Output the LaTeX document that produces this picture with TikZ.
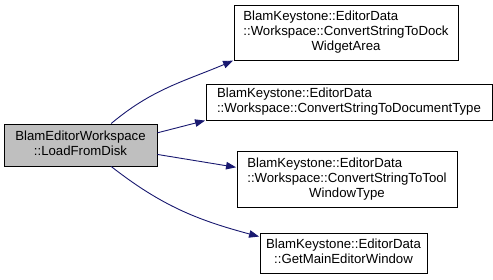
\documentclass[tikz,border=0pt]{standalone}
\usepackage{fontspec}
\setmainfont{Liberation Sans}
\usetikzlibrary{arrows.meta}
\definecolor{edgeblue}{HTML}{191970}
\definecolor{srcgray}{HTML}{BFBFBF}
\newcommand{\lastline}[1]{\multicolumn{1}{@{}c@{}}{#1}}
\tikzset{
  fnbox/.style={draw=black, line width=0.9pt, fill=white, inner sep=0pt,
    font=\fontsize{13.2}{15}\selectfont},
  srcbox/.style={fnbox, fill=srcgray},
  call/.style={draw=edgeblue, line width=0.9pt,
    -{Triangle[length=10pt,width=7.5pt]}, shorten >=0.5pt}
}
\begin{document}
\begin{tikzpicture}[x=1pt, y=1pt]
\useasboundingbox (0,0) rectangle (493,279);

\node[srcbox, minimum width=153, minimum height=42] (loadfromdisk) at (80.5,134)
  {\begin{tabular}{@{}l@{}}BlamEditorWorkspace\\\lastline{::LoadFromDisk}\end{tabular}};

\node[fnbox, minimum width=224, minimum height=55] (dockarea) at (346,246.5)
  {\begin{tabular}{@{}l@{}}BlamKeystone::EditorData\\::Workspace::ConvertStringToDock\\\lastline{WidgetArea}\end{tabular}};
\node[fnbox, minimum width=286, minimum height=36] (doctype) at (349,177)
  {\begin{tabular}{@{}l@{}}BlamKeystone::EditorData\\\lastline{::Workspace::ConvertStringToDocumentType}\end{tabular}};
\node[fnbox, minimum width=220, minimum height=56] (tooltype) at (347,100)
  {\begin{tabular}{@{}l@{}}BlamKeystone::EditorData\\::Workspace::ConvertStringToTool\\\lastline{WindowType}\end{tabular}};
\node[fnbox, minimum width=167, minimum height=40] (mainwindow) at (343.5,26)
  {\begin{tabular}{@{}l@{}}BlamKeystone::EditorData\\\lastline{::GetMainEditorWindow}\end{tabular}};

\draw[call] (loadfromdisk.35) to[out=40, in=203] (dockarea.south west);
\draw[call] (loadfromdisk.9) -- (doctype.south west);
\draw[call] (loadfromdisk.-7) -- (tooltype.174);
\draw[call] (loadfromdisk.-35) to[out=-38, in=165] (mainwindow.169);
\end{tikzpicture}
\end{document}
